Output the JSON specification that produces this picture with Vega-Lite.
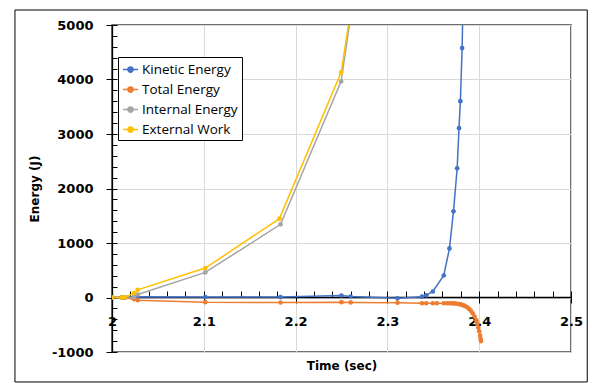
{
  "$schema": "https://vega.github.io/schema/vega-lite/v6.json",
  "width": 459,
  "height": 327,
  "autosize": {"type": "none"},
  "padding": {"left": 112, "top": 25, "right": 21, "bottom": 31},
  "background": "white",
  "config": {
    "view": {"stroke": "#404040", "strokeWidth": 1.5},
    "axis": {"tickColor": "black", "domainColor": "black", "labelColor": "black", "titleColor": "black"}
  },
  "data": {
    "values": [
      {"series": "Kinetic Energy", "t": 2.0, "e": 0},
      {"series": "Kinetic Energy", "t": 2.0106, "e": 0},
      {"series": "Kinetic Energy", "t": 2.014, "e": 2},
      {"series": "Kinetic Energy", "t": 2.024, "e": 10},
      {"series": "Kinetic Energy", "t": 2.028, "e": 12},
      {"series": "Kinetic Energy", "t": 2.1016, "e": 8},
      {"series": "Kinetic Energy", "t": 2.1836, "e": 8},
      {"series": "Kinetic Energy", "t": 2.25, "e": 37},
      {"series": "Kinetic Energy", "t": 2.26, "e": 18},
      {"series": "Kinetic Energy", "t": 2.311, "e": -15},
      {"series": "Kinetic Energy", "t": 2.3376, "e": 15},
      {"series": "Kinetic Energy", "t": 2.3423, "e": 40},
      {"series": "Kinetic Energy", "t": 2.3495, "e": 110},
      {"series": "Kinetic Energy", "t": 2.3614, "e": 404},
      {"series": "Kinetic Energy", "t": 2.3676, "e": 900},
      {"series": "Kinetic Energy", "t": 2.372, "e": 1581},
      {"series": "Kinetic Energy", "t": 2.376, "e": 2371},
      {"series": "Kinetic Energy", "t": 2.378, "e": 3107},
      {"series": "Kinetic Energy", "t": 2.3795, "e": 3603},
      {"series": "Kinetic Energy", "t": 2.3814, "e": 4577},
      {"series": "Kinetic Energy", "t": 2.383, "e": 6000},
      {"series": "Total Energy", "t": 2.0, "e": 0},
      {"series": "Total Energy", "t": 2.0106, "e": -2},
      {"series": "Total Energy", "t": 2.014, "e": -5},
      {"series": "Total Energy", "t": 2.024, "e": -30},
      {"series": "Total Energy", "t": 2.028, "e": -50},
      {"series": "Total Energy", "t": 2.1016, "e": -86},
      {"series": "Total Energy", "t": 2.1836, "e": -92},
      {"series": "Total Energy", "t": 2.25, "e": -86},
      {"series": "Total Energy", "t": 2.26, "e": -90},
      {"series": "Total Energy", "t": 2.311, "e": -95},
      {"series": "Total Energy", "t": 2.3376, "e": -105},
      {"series": "Total Energy", "t": 2.3423, "e": -105},
      {"series": "Total Energy", "t": 2.3495, "e": -105},
      {"series": "Total Energy", "t": 2.354, "e": -105},
      {"series": "Total Energy", "t": 2.3614, "e": -105},
      {"series": "Total Energy", "t": 2.365, "e": -106},
      {"series": "Total Energy", "t": 2.3676, "e": -106},
      {"series": "Total Energy", "t": 2.37, "e": -107},
      {"series": "Total Energy", "t": 2.372, "e": -108},
      {"series": "Total Energy", "t": 2.374, "e": -110},
      {"series": "Total Energy", "t": 2.376, "e": -115},
      {"series": "Total Energy", "t": 2.378, "e": -120},
      {"series": "Total Energy", "t": 2.3795, "e": -125},
      {"series": "Total Energy", "t": 2.3814, "e": -135},
      {"series": "Total Energy", "t": 2.383, "e": -145},
      {"series": "Total Energy", "t": 2.385, "e": -160},
      {"series": "Total Energy", "t": 2.387, "e": -180},
      {"series": "Total Energy", "t": 2.389, "e": -210},
      {"series": "Total Energy", "t": 2.391, "e": -245},
      {"series": "Total Energy", "t": 2.393, "e": -290},
      {"series": "Total Energy", "t": 2.395, "e": -350},
      {"series": "Total Energy", "t": 2.397, "e": -420},
      {"series": "Total Energy", "t": 2.398, "e": -480},
      {"series": "Total Energy", "t": 2.399, "e": -550},
      {"series": "Total Energy", "t": 2.4, "e": -620},
      {"series": "Total Energy", "t": 2.401, "e": -700},
      {"series": "Total Energy", "t": 2.4015, "e": -760},
      {"series": "Total Energy", "t": 2.402, "e": -800},
      {"series": "Internal Energy", "t": 2.0, "e": 0},
      {"series": "Internal Energy", "t": 2.0106, "e": 0},
      {"series": "Internal Energy", "t": 2.014, "e": 0},
      {"series": "Internal Energy", "t": 2.024, "e": 5},
      {"series": "Internal Energy", "t": 2.028, "e": 55},
      {"series": "Internal Energy", "t": 2.1016, "e": 460},
      {"series": "Internal Energy", "t": 2.1836, "e": 1342},
      {"series": "Internal Energy", "t": 2.2496, "e": 3965},
      {"series": "Internal Energy", "t": 2.26, "e": 5163},
      {"series": "External Work", "t": 2.0, "e": 0},
      {"series": "External Work", "t": 2.0106, "e": 0},
      {"series": "External Work", "t": 2.014, "e": 5},
      {"series": "External Work", "t": 2.024, "e": 80},
      {"series": "External Work", "t": 2.028, "e": 140},
      {"series": "External Work", "t": 2.1016, "e": 540},
      {"series": "External Work", "t": 2.1824, "e": 1447},
      {"series": "External Work", "t": 2.2496, "e": 4130},
      {"series": "External Work", "t": 2.26, "e": 5262}
    ]
  },
  "resolve": {"axis": {"x": "independent", "y": "independent"}},
  "layer": [
    {
      "data": {"values": [{}]},
      "mark": {"type": "rect", "fillOpacity": 0, "stroke": "black", "strokeWidth": 1, "clip": false},
      "encoding": {
        "x": {"datum": 1.8943, "type": "quantitative", "scale": {"domain": [2, 2.5], "nice": false, "zero": false},
          "axis": {"orient": "bottom", "values": [2, 2.1, 2.2, 2.3, 2.4, 2.5], "grid": true, "gridColor": "#d9d9d9", "gridWidth": 1, "domain": false, "ticks": false, "labels": false,
            "title": "Time (sec)", "titleFont": "DejaVu Sans", "titleFontSize": 12, "titleFontWeight": "bold", "titlePadding": 8}},
        "x2": {"datum": 2.5177},
        "y": {"datum": 5275, "type": "quantitative", "scale": {"domain": [-1000, 5000], "nice": false, "zero": false}, "axis": null},
        "y2": {"datum": -1550}
      }
    },
    {
      "mark": {"type": "line", "clip": true, "strokeWidth": 1.5},
      "encoding": {
        "x": {"field": "t", "type": "quantitative",
          "axis": {"orient": "bottom", "values": [2, 2.1, 2.2, 2.3, 2.4, 2.5], "offset": -55, "grid": false, "domainWidth": 1.3, "tickSize": 6,
            "labelFont": "DejaVu Sans", "labelFontWeight": "bold", "labelFontSize": 13, "labelPadding": 12, "labelFlush": false, "labelOverlap": false,
            "labelExpr": "'' + datum.value", "title": null}},
        "y": {"field": "e", "type": "quantitative",
          "axis": {"orient": "left", "values": [-1000, 0, 1000, 2000, 3000, 4000, 5000], "grid": true, "gridColor": "#d9d9d9", "domainWidth": 1.3, "tickSize": 6,
            "labelFont": "DejaVu Sans", "labelFontWeight": "bold", "labelFontSize": 13, "labelPadding": 13, "labelExpr": "'' + datum.value",
            "title": "Energy (J)", "titleFont": "DejaVu Sans", "titleFontSize": 12, "titleFontWeight": "bold", "titlePadding": 10}},
        "color": {"field": "series", "type": "nominal",
          "scale": {"domain": ["Kinetic Energy", "Total Energy", "Internal Energy", "External Work"], "range": ["#4472C4", "#ED7D31", "#A5A5A5", "#FFC000"]},
          "legend": {"title": null, "orient": "none", "legendX": 6, "legendY": 32, "strokeColor": "black", "fillColor": "white", "padding": 4,
            "labelFont": "Open Sans", "labelFontSize": 13.5, "labelColor": "black", "labelOffset": 3,
            "symbolType": "M-1,0H1M-0.35,0a0.35,0.35 0 1,0 0.7,0a0.35,0.35 0 1,0 -0.7,0", "symbolSize": 225, "symbolStrokeWidth": 1.5, "rowPadding": 5}}
      }
    },
    {
      "mark": {"type": "point", "filled": true, "size": 22, "opacity": 1, "clip": true},
      "encoding": {
        "x": {"field": "t", "type": "quantitative",
          "axis": {"orient": "bottom", "values": [2, 2.02, 2.04, 2.06, 2.08, 2.1, 2.12, 2.14, 2.16, 2.18, 2.2, 2.22, 2.24, 2.26, 2.28, 2.3, 2.32, 2.34, 2.36, 2.38, 2.4, 2.42, 2.44, 2.46, 2.48, 2.5],
            "offset": -55, "tickSize": -6, "domain": false, "labels": false, "grid": false, "title": null}},
        "y": {"field": "e", "type": "quantitative",
          "axis": {"orient": "left", "values": [-1000, -800, -600, -400, -200, 0, 200, 400, 600, 800, 1000, 1200, 1400, 1600, 1800, 2000, 2200, 2400, 2600, 2800, 3000, 3200, 3400, 3600, 3800, 4000, 4200, 4400, 4600, 4800, 5000],
            "tickSize": -5, "domain": false, "labels": false, "grid": false, "title": null}},
        "color": {"field": "series", "type": "nominal"}
      }
    }
  ]
}
